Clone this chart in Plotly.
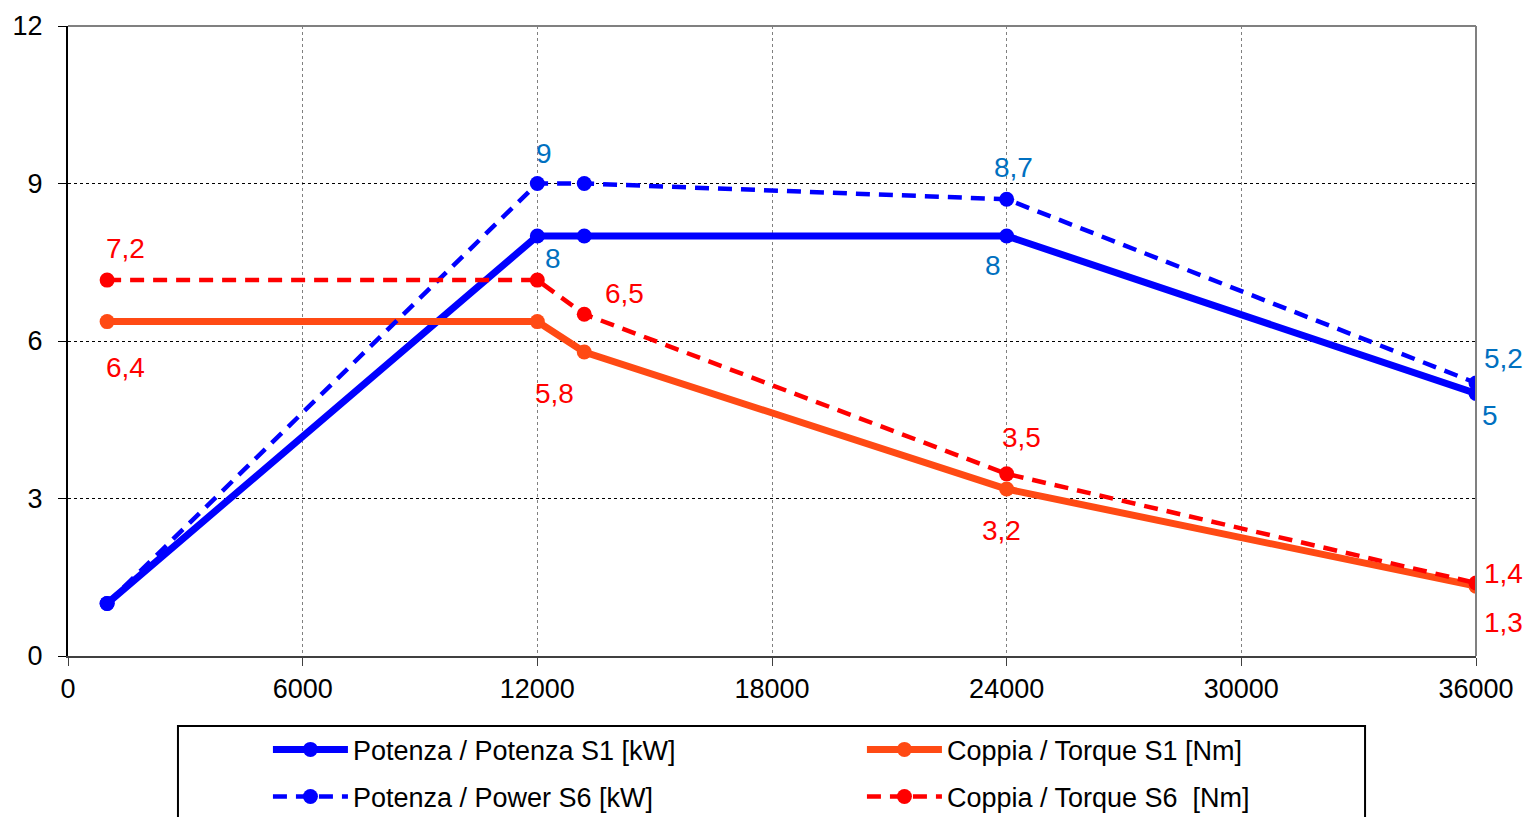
import plotly.graph_objects as go

# Data
speed = [1000, 12000, 13200, 24000, 36000]
power_s1 = [1.0, 8.0, 8.0, 8.0, 5.0]
power_s6 = [1.0, 9.0, 9.0, 8.7, 5.2]
torque_s1 = [6.37, 6.37, 5.79, 3.18, 1.33]
torque_s6 = [7.16, 7.16, 6.51, 3.47, 1.39]

names = ["Potenza / Potenza S1 [kW]", "Coppia / Torque S1 [Nm]",
         "Potenza / Power S6 [kW]", "Coppia / Torque S6  [Nm]"]

x_ticks = [0, 6000, 12000, 18000, 24000, 30000, 36000]
y_ticks = [0, 3, 6, 9, 12]

# label placements: (index, xshift, yshift)
lab_p1 = [(1, 16, -22), (3, -14, -29), (4, 14, -22)]
lab_p6 = [(1, 7, 30), (3, 7, 32), (4, 27, 25)]
lab_t1 = [(0, 18, -46), (2, -30, -41), (3, -5, -41), (4, 27, -36)]
lab_t6 = [(0, 18, 32), (2, 40, 21), (3, 15, 36), (4, 27, 10)]

BLUE = "#0000FF"
BLUE_LAB = "#0070C0"
ORANGE = "#FF4A14"
RED = "#FF0000"
FONT = "Liberation Sans, Arial, sans-serif"


def fmt(v):
    r = round(v, 1)
    s = f"{r:.1f}"
    if s.endswith(".0"):
        s = s[:-2]
    return s.replace(".", ",")


fig = go.Figure()
fig.add_trace(go.Scatter(x=speed, y=power_s1, name=names[0], mode="lines+markers", legend="legend",
                         line=dict(color=BLUE, width=7), marker=dict(size=15, color=BLUE)))
fig.add_trace(go.Scatter(x=speed, y=torque_s1, name=names[1], mode="lines+markers", legend="legend",
                         line=dict(color=ORANGE, width=7), marker=dict(size=15, color=ORANGE)))
fig.add_trace(go.Scatter(x=speed, y=power_s6, name=names[2], mode="lines+markers", legend="legend2",
                         line=dict(color=BLUE, width=4.5, dash="14px,9px"), marker=dict(size=15, color=BLUE)))
fig.add_trace(go.Scatter(x=speed, y=torque_s6, name=names[3], mode="lines+markers", legend="legend2",
                         line=dict(color=RED, width=4.5, dash="14px,9px"), marker=dict(size=15, color=RED)))

annotations = []
for series, labs, col in [(power_s1, lab_p1, BLUE_LAB), (power_s6, lab_p6, BLUE_LAB),
                          (torque_s1, lab_t1, RED), (torque_s6, lab_t6, RED)]:
    for i, dx, dy in labs:
        annotations.append(dict(x=speed[i], y=series[i], text=fmt(series[i]), showarrow=False,
                                xshift=dx, yshift=dy, font=dict(family=FONT, size=28, color=col)))

shapes = [
    dict(type="line", xref="paper", yref="paper", x0=0, x1=1, y0=1, y1=1,
         line=dict(color="#808080", width=2), layer="above"),
    dict(type="line", xref="paper", yref="paper", x0=1, x1=1, y0=0, y1=1,
         line=dict(color="#808080", width=2), layer="above"),
    dict(type="rect", xref="paper", yref="paper", x0=0.0781, x1=0.9212, y0=-0.111, y1=-0.35,
         line=dict(color="black", width=2), fillcolor="rgba(0,0,0,0)"),
]

leg_common = dict(orientation="h", xanchor="left", yanchor="middle",
                  entrywidth=504, entrywidthmode="pixels", itemwidth=75,
                  font=dict(family=FONT, size=27, color="black"),
                  bgcolor="rgba(0,0,0,0)", traceorder="normal")

fig.update_layout(
    width=1530, height=817,
    margin=dict(l=68, r=54, t=26, b=161, autoexpand=False),
    paper_bgcolor="white", plot_bgcolor="white",
    font=dict(family=FONT, size=27, color="black"),
    showlegend=True,
    legend=dict(x=0.142, y=-0.149, **leg_common),
    legend2=dict(x=0.142, y=-0.2238, **leg_common),
    annotations=annotations,
    shapes=shapes,
)
fig.update_xaxes(range=[0, 36000], tickvals=x_ticks, ticktext=[str(t) for t in x_ticks],
                 showgrid=True, gridcolor="#808080", griddash="dot", gridwidth=1,
                 showline=True, linecolor="#404040", linewidth=2,
                 ticks="outside", ticklen=8, tickcolor="#404040", zeroline=False,
                 tickfont=dict(size=27))
fig.update_yaxes(range=[0, 12], tickvals=y_ticks, ticktext=[str(t) for t in y_ticks],
                 showgrid=True, gridcolor="black", griddash="dot", gridwidth=1,
                 showline=True, linecolor="black", linewidth=2,
                 ticks="outside", ticklen=8, tickcolor="black", zeroline=False,
                 ticklabelstandoff=10, tickfont=dict(size=27))

fig.write_html("out.html", config={"displayModeBar": False},
               post_script="document.body.style.margin='0';")
